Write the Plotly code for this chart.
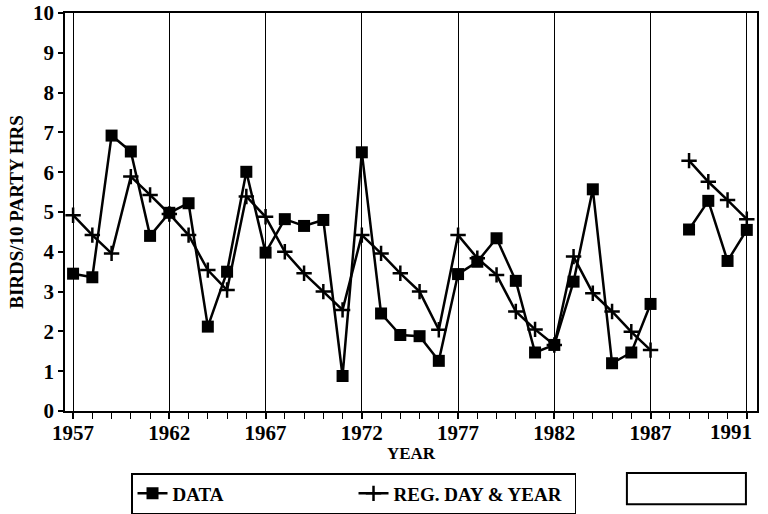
import plotly.graph_objects as go

years = list(range(1957, 1993))
data_vals = [3.45, 3.36, 6.92, 6.52, 4.40, 4.98, 5.22, 2.12, 3.50, 6.01,
             3.98, 4.82, 4.65, 4.80, 0.88, 6.50, 2.45, 1.91, 1.88, 1.26,
             3.44, 3.75, 4.34, 3.27, 1.47, 1.66, 3.25, 5.57, 1.20, 1.47,
             2.69, None, 4.56, 5.28, 3.77, 4.55]
reg_vals = [4.92, 4.42, 3.96, 5.89, 5.43, 4.95, 4.42, 3.54, 3.04, 5.39,
            4.88, 4.00, 3.46, 3.00, 2.54, 4.42, 3.96, 3.46, 3.00, 2.04,
            4.42, 3.84, 3.42, 2.50, 2.05, 1.66, 3.88, 2.96, 2.50, 1.99,
            1.53, None, 6.29, 5.76, 5.30, 4.82]
x_tickvals = [1957, 1962, 1967, 1972, 1977, 1982, 1987, 1992]
x_ticktext = ["1957", "1962", "1967", "1972", "1977", "1982", "1987", ""]
last_tick_label = "1991"
y_tickvals = list(range(0, 11))

FONT = "Liberation Serif"

fig = go.Figure()
fig.add_trace(go.Scatter(
    x=years, y=data_vals, name="DATA", mode="lines+markers",
    connectgaps=False,
    line=dict(color="black", width=2.5),
    marker=dict(symbol="square", size=12, color="black"),
))
fig.add_trace(go.Scatter(
    x=years, y=reg_vals, name="REG. DAY & YEAR", mode="lines+markers",
    connectgaps=False,
    line=dict(color="black", width=2.5),
    marker=dict(symbol="cross-thin", size=11, color="black",
                line=dict(color="black", width=2.5)),
))

fig.update_layout(
    width=768, height=514,
    margin=dict(l=65, r=11, t=13, b=103, autoexpand=False),
    paper_bgcolor="white", plot_bgcolor="white",
    font=dict(family=FONT, color="black", weight="bold"),
    showlegend=True,
    legend=dict(
        orientation="h", x=0.0954, y=-0.1558, xanchor="left", yanchor="top",
        bordercolor="black", borderwidth=1.5, bgcolor="white",
        font=dict(family=FONT, size=19, weight="bold"),
        entrywidth=176, entrywidthmode="pixels",
    ),
    shapes=[dict(type="rect", xref="paper", yref="paper",
                 x0=0.812, x1=0.984, y0=-0.156, y1=-0.234,
                 line=dict(color="black", width=2))],
    annotations=[dict(x=x_tickvals[-1], xref="x", y=0, yref="paper",
                      text=last_tick_label, showarrow=False,
                      xanchor="right", yanchor="top", xshift=7, yshift=-7,
                      font=dict(family=FONT, size=21, weight="bold"))],
)

fig.update_xaxes(
    range=[1956.58, 1992.53], automargin=False,
    tickvals=x_tickvals, ticktext=x_ticktext,
    tickfont=dict(family=FONT, size=21, weight="bold"),
    ticklabelstandoff=-4,
    ticks="outside", ticklen=6, tickwidth=1.5, tickcolor="black",
    showgrid=True, gridcolor="black", gridwidth=1,
    showline=True, linecolor="black", linewidth=1.5, mirror=True,
    zeroline=False,
    minor=dict(dtick=1, tick0=1957, ticks="outside", ticklen=6,
               tickwidth=1, tickcolor="black", showgrid=False),
    title=dict(text="YEAR", font=dict(family=FONT, size=17, weight="bold"),
               standoff=3),
)
fig.update_yaxes(
    range=[0, 10], automargin=False,
    tickvals=y_tickvals,
    tickfont=dict(family=FONT, size=21, weight="bold"),
    ticks="outside", ticklen=5, tickwidth=1.5, tickcolor="black",
    showgrid=False,
    showline=True, linecolor="black", linewidth=1.5, mirror=True,
    zeroline=False,
    title=dict(text="BIRDS/10 PARTY HRS",
               font=dict(family=FONT, size=19, weight="bold"), standoff=4),
)

fig.write_html("out.html",
               config={"displayModeBar": False},
               post_script="document.body.style.margin='0';"
                           "document.body.style.overflow='hidden';")
